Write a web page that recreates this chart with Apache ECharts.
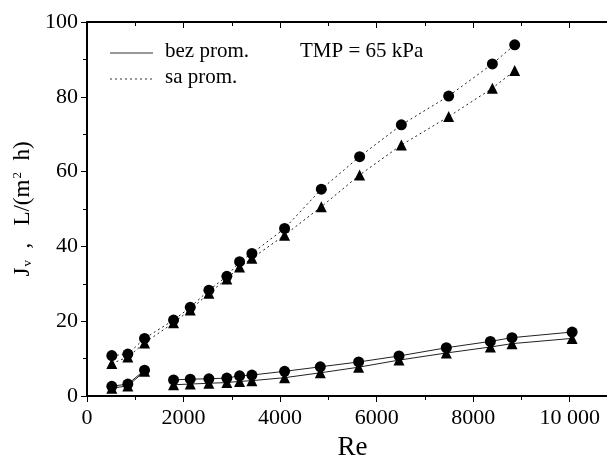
<!DOCTYPE html>
<html><head><meta charset="utf-8">
<script src="https://cdn.jsdelivr.net/npm/echarts@6/dist/echarts.min.js"></script>
<style>html,body{margin:0;padding:0;background:#fff}#c{width:607px;height:460px}</style>
</head><body><div id="c"></div>
<script>
// Re values
const reVals = [514, 846, 1192, 1793, 2139, 2525, 2897, 3161, 3416, 4093, 4854, 5648, 6512, 7492, 8398, 8860];
const reSolid = [514, 846, 1192, null, 1793, 2139, 2525, 2897, 3161, 3416, 4093, 4833, 5627, 6463, 7444, 8356, 8804, 10050];
// sa prom. (dotted)
const saCircle = [10.8, 11.2, 15.4, 20.3, 23.7, 28.3, 32.0, 35.9, 38.1, 44.8, 55.3, 64.0, 72.5, 80.2, 88.8, 93.9];
const saTriangle = [8.7, 10.4, 14.2, 19.6, 23.0, 27.5, 31.3, 34.5, 36.8, 43.0, 50.6, 59.1, 67.1, 74.7, 82.3, 87.0];
// bez prom. (solid)
const bezCircle = [2.6, 3.2, 6.9, null, 4.3, 4.5, 4.6, 4.8, 5.4, 5.6, 6.6, 7.8, 9.1, 10.7, 12.9, 14.6, 15.6, 17.1];
const bezTriangle = [2.1, 2.7, 6.6, null, 3.0, 3.2, 3.4, 3.6, 3.9, 4.1, 4.9, 6.2, 7.7, 9.6, 11.5, 13.1, 14.0, 15.4];
const xTicks = [0, 2000, 4000, 6000, 8000, 10000];
const yTicks = [0, 20, 40, 60, 80, 100];

const font = 'Liberation Serif';
const pair = (xs, ys) => xs.map((x, i) => (x === null || ys[i] === null) ? [null, null] : [x, ys[i]]);
function ser(xs, ys, sym, type) {
  return {
    type: 'line', data: pair(xs, ys), symbol: sym, symbolSize: 11,
    connectNulls: false, animation: false,
    itemStyle: { color: '#000' },
    lineStyle: { color: '#222', width: 1, type: type === 'dotted' ? [2, 3] : 'solid' }
  };
}
const chart = echarts.init(document.getElementById('c'));
chart.setOption({
  animation: false,
  grid: { left: 87, right: -11, top: 22, bottom: 64, outerBoundsMode: 'none', containLabel: false },
  xAxis: [{
    type: 'value', min: 0, max: 11000, interval: 2000,
    name: 'Re', nameLocation: 'middle', nameGap: 38,
    nameTextStyle: { fontFamily: font, fontSize: 27, color: '#000' },
    axisLine: { lineStyle: { color: '#000', width: 2 } },
    axisTick: { inside: false, length: 6, lineStyle: { color: '#000' } },
    minorTick: { show: true, splitNumber: 2, length: 4, lineStyle: { color: '#000' } },
    splitLine: { show: false },
    axisLabel: { fontFamily: font, fontSize: 22, color: '#000', margin: 11,
      formatter: v => xTicks.includes(v) ? (v === 10000 ? '10 000' : String(v)) : '' }
  }, {
    type: 'value', position: 'top', min: 0, max: 11000, interval: 2000,
    axisLine: { show: true, lineStyle: { color: '#000', width: 2 } },
    axisTick: { inside: true, length: 6, lineStyle: { color: '#000' } },
    minorTick: { show: true, splitNumber: 2, length: 4, lineStyle: { color: '#000' } },
    splitLine: { show: false }, axisLabel: { show: false }
  }],
  yAxis: {
    type: 'value', min: 0, max: 100, interval: 20,
    name: '{j|J}{s|v}{j|  ,   L/(m}{p|2}{j|  h)}', nameLocation: 'middle', nameGap: 50, nameRotate: 90,
    nameTextStyle: { rich: {
      j: { fontFamily: font, fontSize: 23, color: '#000' },
      s: { fontFamily: font, fontSize: 13, color: '#000', padding: [9, 0, 0, 1] },
      p: { fontFamily: font, fontSize: 13, color: '#000', padding: [0, 0, 11, 1] }
    } },
    axisLine: { lineStyle: { color: '#000', width: 2 } },
    axisTick: { inside: false, length: 6, lineStyle: { color: '#000' } },
    minorTick: { show: true, splitNumber: 2, length: 4, lineStyle: { color: '#000' } },
    splitLine: { show: false },
    axisLabel: { fontFamily: font, fontSize: 22, color: '#000', margin: 9,
      formatter: v => yTicks.includes(v) ? String(v) : '' }
  },
  series: [
    ser(reVals, saCircle, 'circle', 'dotted'),
    ser(reVals, saTriangle, 'triangle', 'dotted'),
    ser(reSolid, bezCircle, 'circle', 'solid'),
    ser(reSolid, bezTriangle, 'triangle', 'solid')
  ],
  graphic: [
    { type: 'line', shape: { x1: 110, y1: 53, x2: 153, y2: 53 }, style: { stroke: '#333', lineWidth: 1 } },
    { type: 'line', shape: { x1: 110, y1: 79, x2: 153, y2: 79 }, style: { stroke: '#333', lineWidth: 1, lineDash: [2, 3] } },
    { type: 'text', left: 165, top: 41, style: { text: 'bez prom.', font: '21px "Liberation Serif"', fill: '#000' } },
    { type: 'text', left: 165, top: 67, style: { text: 'sa prom.', font: '21px "Liberation Serif"', fill: '#000' } },
    { type: 'text', left: 300, top: 41, style: { text: 'TMP = 65 kPa', font: '21px "Liberation Serif"', fill: '#000' } }
  ]
});
</script></body></html>
